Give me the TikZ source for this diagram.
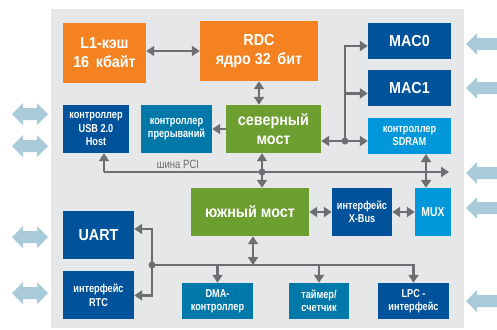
\documentclass[tikz,border=0pt]{standalone}
\usepackage{fontspec}
\setmainfont{Liberation Sans}[FakeStretch=0.8]
\newfontfamily\bigfont{Liberation Sans}[FakeStretch=0.9]
\usepackage{xcolor}
\usepackage{tikz}
\usetikzlibrary{positioning, arrows.meta}

\definecolor{cpuorange}{HTML}{F58220}
\definecolor{bridgegreen}{HTML}{6C9E30}
\definecolor{darkblue}{HTML}{00539A}
\definecolor{tealblue}{HTML}{0079A8}
\definecolor{lightblue}{HTML}{0098DA}
\definecolor{panelgray}{HTML}{E6E7E8}
\definecolor{linkgray}{HTML}{6D6E71}
\definecolor{portblue}{HTML}{A9CAD9}

\begin{document}
\begin{tikzpicture}[
      x=1bp, y=-1bp,
      block/.style={rectangle, inner sep=0pt, align=center, text=white,
        font=\bfseries\fontsize{11.5}{13.3}\selectfont},
      big/.style={font=\bigfont\bfseries\fontsize{16}{19}\selectfont},
      bus/.style={draw=linkgray, line width=2.8bp},
      link/.style={bus, -{Triangle[length=8bp,width=10bp]}},
      dlink/.style={bus, {Triangle[length=8bp,width=10bp]}-{Triangle[length=8bp,width=10bp]}},
      joint/.style={circle, fill=linkgray, inner sep=0pt, minimum size=7bp},
      port/.style={fill=portblue},
      buslabel/.style={text=linkgray, font=\fontsize{12}{13}\selectfont}
    ]
    \useasboundingbox (0,0) rectangle (497,329);

    % Chip panel
    \fill[panelgray] (51,9) rectangle (464,328);

    % CPU core and cache
    \node[block, big, fill=cpuorange, minimum width=83bp, minimum height=60bp] (l1) at (104.5,53) {L1-кэш\\16\, кбайт};
    \node[block, big, fill=cpuorange, minimum width=118bp, minimum height=60bp] (rdc) at (259,51) {RDC\\ядро 32\, бит};

    % North bridge row
    \node[block, big, fill=bridgegreen, minimum width=95bp, minimum height=48bp] (north) at (273.5,129) {северный\\мост};
    \node[block, fill=tealblue, minimum width=71bp, minimum height=48bp] (irq) at (176.5,129) {контроллер\\прерываний};
    \node[block, fill=darkblue, minimum width=66bp, minimum height=48bp] (usb) at (96,129) {контроллер\\USB 2.0\\Host};

    % MAC and memory column
    \node[block, big, fill=darkblue, minimum width=83bp, minimum height=36bp] (mac0) at (409.5,41) {MAC0};
    \node[block, big, fill=darkblue, minimum width=83bp, minimum height=36bp, below=11bp of mac0] (mac1) {MAC1};
    \node[block, fill=lightblue, minimum width=83bp, minimum height=36bp, below=11bp of mac1] (sdram) {контроллер\\SDRAM};

    % South bridge row
    \node[block, big, fill=bridgegreen, minimum width=118bp, minimum height=48bp] (south) at (250,212) {южный мост};
    \node[block, fill=darkblue, minimum width=60bp, minimum height=48bp] (xbus) at (362,212) {интерфейс\\X-Bus};
    \node[block, fill=lightblue, minimum width=36bp, minimum height=48bp, font=\bfseries\fontsize{13}{15}\selectfont] (mux) at (433,212) {MUX};

    % Peripherals
    \node[block, big, fill=darkblue, minimum width=71bp, minimum height=48bp] (uart) at (98.5,235) {UART};
    \node[block, fill=darkblue, minimum width=71bp, minimum height=48bp, below=12bp of uart] (rtc) {интерфейс\\RTC};
    \node[block, fill=tealblue, minimum width=71bp, minimum height=36bp] (dma) at (217.5,301) {DMA-\\контроллер};
    \node[block, fill=tealblue, minimum width=60bp, minimum height=36bp] (timer) at (319,301) {таймер/\\счетчик};
    \node[block, fill=darkblue, minimum width=71bp, minimum height=36bp] (lpc) at (413.5,301) {LPC -\\интерфейс};

    % Links around the core
    \draw[dlink] (l1.east |- rdc.west) -- (rdc.west);
    \draw[dlink] (rdc.south) -- (rdc.south |- north.north);
    \draw[link] (north.west) -- (irq.east);

    % North bridge to MACs and SDRAM
    \coordinate (nbjoint) at (345,141);
    \draw[dlink] (north.east |- nbjoint) -- (sdram.west |- nbjoint);
    \draw[link] (nbjoint) |- ([yshift=-5bp]mac0.west);
    \draw[link] (nbjoint |- mac1.west) ++(0,5) -- ([yshift=-5bp]mac1.west);
    \node[joint] (j1) at (nbjoint) {};

    % PCI bus
    \coordinate (pcistart) at (104,172);
    \coordinate (pciend) at (449,172);
    \coordinate (pcinb) at (262,172);
    \coordinate (pcimux) at (426,172);
    \draw[link] (pcistart) -- (pciend);
    \draw[link] (pcistart) -- (usb.south -| pcistart);
    \draw[dlink] (north.south -| pcinb) -- (south.north -| pcinb);
    \node[joint] (j2) at (pcinb) {};
    \draw[dlink] (sdram.south -| pcimux) -- (mux.north -| pcimux);
    \node[buslabel] (pcilabel) at (178,164) {шина PCI};

    % South bridge links
    \draw[dlink] (south.east) -- (xbus.west);
    \draw[dlink] (xbus.east) -- (mux.west);

    % Peripheral bus
    \coordinate (isaleft) at (152,265);
    \coordinate (isasb) at (253,265);
    \draw[link] (isaleft) -| (lpc.north);
    \draw[link] (dma.north |- isaleft) -- (dma.north);
    \draw[link] (timer.north |- isaleft) -- (timer.north);
    \draw[dlink] (south.south -| isasb) -- (isasb);
    \draw[link] (isaleft) |- ([yshift=6bp]uart.east);
    \draw[link] (isaleft) |- (rtc.east);
    \node[joint] (j3) at (isaleft) {};

    % External ports
    \foreach \y in {114,146,237,293}
      \fill[port] (12,\y) -- (23,\y-11) -- (23,\y-6) -- (37,\y-6) -- (37,\y-11) -- (48,\y)
        -- (37,\y+11) -- (37,\y+6) -- (23,\y+6) -- (23,\y+11) -- cycle;
    \foreach \y in {44,88,173,208,301}
      \fill[port] (466,\y) -- (477,\y-11) -- (477,\y-6) -- (497,\y-6) -- (497,\y+6)
        -- (477,\y+6) -- (477,\y+11) -- cycle;

  \end{tikzpicture}
\end{document}
